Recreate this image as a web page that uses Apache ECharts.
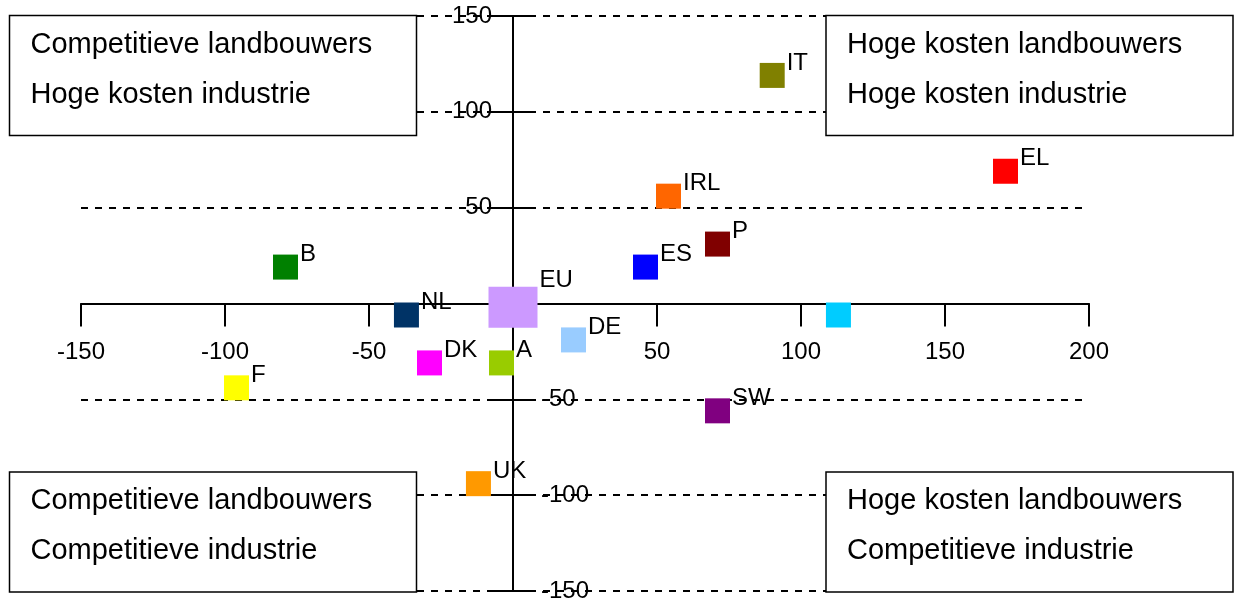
<!DOCTYPE html>
<html>
<head>
<meta charset="utf-8">
<script src="https://cdn.jsdelivr.net/npm/echarts@6/dist/echarts.min.js"></script>
<style>
  html, body { margin: 0; padding: 0; background: #fff; }
  #chart { width: 1242px; height: 600px; }
</style>
</head>
<body>
<div id="chart"></div>
<script>
// landen en hun positie (x: landbouw, y: industrie)
const countries = ['IT', 'EL', 'IRL', 'P', 'ES', 'B', 'EU', 'NL', '', 'DE', 'DK', 'A', 'F', 'SW', 'UK'];
const xValues = [90, 171, 54, 71, 46, -79, 0, -37, 113, 21, -29, -4, -96, 71, -12];
const yValues = [119, 69, 56, 31, 19, 19, -2, -6, -6, -19, -31, -31, -44, -56, -94];
const pointColors = ['#808000', '#ff0000', '#ff6600', '#800000', '#0000ff', '#008000', '#cc99ff',
  '#003366', '#00ccff', '#99ccff', '#ff00ff', '#99cc00', '#ffff00', '#800080', '#ff9900'];

// kwadrant teksten
const quadrantLabels = [
  ['Competitieve landbouwers', 'Hoge kosten industrie'],
  ['Hoge kosten landbouwers', 'Hoge kosten industrie'],
  ['Competitieve landbouwers', 'Competitieve industrie'],
  ['Hoge kosten landbouwers', 'Competitieve industrie']
];

const FONT = '"Liberation Sans", Arial, sans-serif';

const chart = echarts.init(document.getElementById('chart'), null, { renderer: 'canvas' });

const points = countries.map((name, i) => ({
  name: name,
  value: [xValues[i], yValues[i]],
  itemStyle: { color: pointColors[i], opacity: 1 },
  symbolSize: name === 'EU' ? [49, 41] : 25,
  label: { offset: name === 'EU' ? [0, -27] : [0, -12.5] }
}));

// assen kruisen in (0,0): verschuiving t.o.v. de rand van het grid
const GRID = { left: 81, right: 153, top: 16, bottom: 9 };
const zeroX = 513;
const zeroY = 303.5;

const boxPos = [[9.5, 15.5], [826, 15.5], [9.5, 472], [826, 472]];
const boxes = quadrantLabels.map((lines, i) => ({
  type: 'group',
  x: boxPos[i][0],
  y: boxPos[i][1],
  children: [
    {
      type: 'rect',
      z: 100,
      shape: { x: 0, y: 0, width: 407, height: 120 },
      style: { fill: '#fff', stroke: '#000', lineWidth: 1.5 }
    },
    {
      type: 'text',
      z: 101,
      x: 21, y: 29,
      style: { text: lines[0], font: '29px ' + FONT, fill: '#000', verticalAlign: 'middle' }
    },
    {
      type: 'text',
      z: 101,
      x: 21, y: 79,
      style: { text: lines[1], font: '29px ' + FONT, fill: '#000', verticalAlign: 'middle' }
    }
  ]
}));

const yAxisBase = {
  type: 'value',
  min: -150,
  max: 150,
  interval: 50,
  axisLine: { onZero: false, lineStyle: { color: '#000', width: 2 } },
  axisTick: { show: true, length: 23, lineStyle: { color: '#000', width: 2 } }
};

chart.setOption({
  animation: false,
  textStyle: { fontFamily: FONT },
  grid: Object.assign({ containLabel: false, outerBoundsMode: 'none' }, GRID),
  xAxis: {
    type: 'value',
    min: -150,
    max: 200,
    interval: 50,
    position: 'bottom',
    offset: -(600 - GRID.bottom - zeroY),
    axisLine: { onZero: false, lineStyle: { color: '#000', width: 2 } },
    axisTick: { show: true, length: 23, lineStyle: { color: '#000', width: 2 } },
    axisLabel: {
      color: '#000', fontSize: 24, fontFamily: FONT, margin: 37,
      formatter: v => (v === 0 ? '' : String(v))
    },
    splitLine: { show: false }
  },
  yAxis: [
    Object.assign({}, yAxisBase, {
      position: 'left',
      offset: -(zeroX - GRID.left),
      axisLabel: {
        color: '#000', fontSize: 24, fontFamily: FONT, margin: 21,
        formatter: v => (v > 0 ? String(v) : '')
      },
      splitLine: {
        show: true,
        lineStyle: { color: '#000', width: 2, type: [7, 7] }
      }
    }),
    Object.assign({}, yAxisBase, {
      position: 'right',
      offset: -(1242 - GRID.right - zeroX),
      axisLabel: {
        color: '#000', fontSize: 24, fontFamily: FONT, margin: 28,
        formatter: v => (v < 0 ? String(v) : '')
      },
      splitLine: { show: false }
    })
  ],
  series: [
    {
      type: 'scatter',
      symbol: 'rect',
      data: points,
      z: 5,
      itemStyle: { opacity: 1 },
      label: {
        show: true,
        position: 'right',
        distance: 2,
        formatter: '{b}',
        color: '#000',
        fontSize: 24,
        fontFamily: FONT
      }
    }
  ],
  graphic: boxes
});
</script>
</body>
</html>
